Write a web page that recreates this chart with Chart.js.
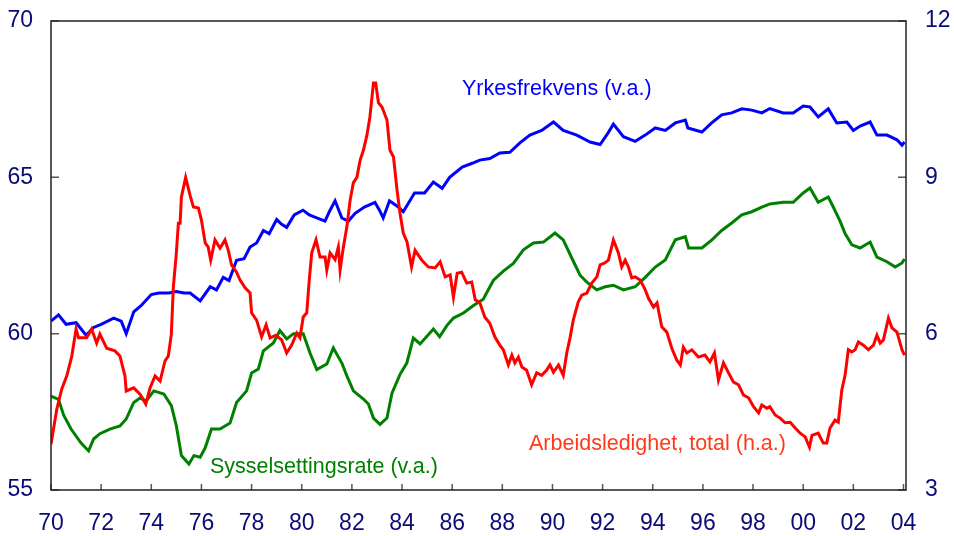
<!DOCTYPE html>
<html>
<head>
<meta charset="utf-8">
<script src="https://cdn.jsdelivr.net/npm/chart.js@4.4.1/dist/chart.umd.min.js"></script>
<style>
  html, body { margin: 0; padding: 0; background: #fff; }
</style>
</head>
<body>
<canvas id="arbeidsmarked" width="954" height="536"></canvas>
<script>
// Yrkesfrekvens (venstre akse)
const yrkesAar = [1970.0, 1970.3, 1970.6, 1971.0, 1971.4, 1971.7, 1972.0, 1972.5, 1972.8, 1973.0, 1973.3, 1973.6, 1974.0, 1974.3, 1974.7, 1975.0, 1975.3, 1975.55, 1975.95, 1976.35, 1976.6, 1976.87, 1977.1, 1977.4, 1977.7, 1977.94, 1978.2, 1978.47, 1978.7, 1979.0, 1979.2, 1979.4, 1979.7, 1980.05, 1980.3, 1980.6, 1980.93, 1981.1, 1981.33, 1981.6, 1981.86, 1982.13, 1982.5, 1982.92, 1983.1, 1983.25, 1983.5, 1983.85, 1984.05, 1984.5, 1984.9, 1985.25, 1985.6, 1985.9, 1986.4, 1986.8, 1987.1, 1987.5, 1987.9, 1988.3, 1988.7, 1989.1, 1989.57, 1990.04, 1990.43, 1990.97, 1991.5, 1991.9, 1992.2, 1992.43, 1992.83, 1993.3, 1993.7, 1994.1, 1994.5, 1994.9, 1995.3, 1995.4, 1995.96, 1996.35, 1996.75, 1997.15, 1997.55, 1997.95, 1998.35, 1998.67, 1999.2, 1999.6, 2000.0, 2000.27, 2000.6, 2001.0, 2001.34, 2001.74, 2002.0, 2002.27, 2002.67, 2002.94, 2003.34, 2003.74, 2003.94, 2004.04];
const yrkesVerdi = [60.4, 60.6, 60.3, 60.35, 59.95, 60.2, 60.3, 60.5, 60.4, 60.0, 60.7, 60.9, 61.25, 61.3, 61.3, 61.35, 61.3, 61.3, 61.05, 61.5, 61.4, 61.8, 61.7, 62.35, 62.4, 62.77, 62.9, 63.3, 63.2, 63.65, 63.5, 63.4, 63.8, 63.95, 63.8, 63.7, 63.6, 63.9, 64.25, 63.7, 63.6, 63.85, 64.05, 64.2, 63.95, 63.7, 64.25, 64.05, 63.9, 64.5, 64.5, 64.85, 64.65, 65.0, 65.33, 65.45, 65.55, 65.6, 65.78, 65.8, 66.1, 66.35, 66.5, 66.77, 66.5, 66.35, 66.13, 66.05, 66.4, 66.7, 66.3, 66.15, 66.35, 66.58, 66.5, 66.74, 66.83, 66.58, 66.45, 66.74, 67.0, 67.06, 67.19, 67.15, 67.06, 67.2, 67.06, 67.06, 67.28, 67.25, 66.93, 67.19, 66.74, 66.77, 66.5, 66.64, 66.77, 66.35, 66.35, 66.2, 66.03, 66.13];

// Sysselsettingsrate (venstre akse)
const sysselAar = [1970.0, 1970.3, 1970.5, 1970.8, 1971.2, 1971.5, 1971.7, 1971.95, 1972.35, 1972.75, 1973.0, 1973.3, 1973.55, 1973.8, 1974.1, 1974.5, 1974.8, 1975.0, 1975.2, 1975.5, 1975.7, 1975.95, 1976.15, 1976.4, 1976.74, 1977.14, 1977.4, 1977.8, 1978.0, 1978.27, 1978.47, 1978.87, 1979.13, 1979.4, 1979.67, 1980.06, 1980.33, 1980.6, 1981.0, 1981.26, 1981.6, 1981.8, 1982.06, 1982.46, 1982.66, 1982.86, 1983.12, 1983.4, 1983.6, 1983.92, 1984.19, 1984.45, 1984.72, 1985.25, 1985.5, 1985.78, 1986.05, 1986.45, 1986.85, 1987.24, 1987.64, 1988.04, 1988.44, 1988.84, 1989.24, 1989.64, 1990.1, 1990.43, 1990.77, 1991.1, 1991.37, 1991.77, 1992.1, 1992.43, 1992.83, 1993.3, 1993.7, 1994.1, 1994.5, 1994.9, 1995.3, 1995.43, 1995.96, 1996.36, 1996.75, 1997.15, 1997.55, 1997.95, 1998.35, 1998.67, 1999.2, 1999.6, 2000.0, 2000.27, 2000.6, 2001.0, 2001.2, 2001.47, 2001.67, 2001.94, 2002.27, 2002.67, 2002.94, 2003.34, 2003.67, 2003.94, 2004.04];
const sysselVerdi = [58.0, 57.9, 57.4, 56.95, 56.5, 56.25, 56.63, 56.8, 56.95, 57.05, 57.27, 57.8, 57.94, 57.85, 58.17, 58.07, 57.7, 57.05, 56.1, 55.83, 56.1, 56.05, 56.35, 56.95, 56.95, 57.14, 57.8, 58.17, 58.74, 58.87, 59.45, 59.7, 60.1, 59.83, 60.0, 60.0, 59.38, 58.85, 59.03, 59.54, 59.06, 58.65, 58.17, 57.91, 57.75, 57.3, 57.1, 57.3, 58.1, 58.7, 59.06, 59.86, 59.67, 60.15, 59.9, 60.25, 60.5, 60.66, 60.9, 61.1, 61.7, 62.0, 62.25, 62.68, 62.9, 62.93, 63.22, 63.0, 62.42, 61.87, 61.65, 61.4, 61.5, 61.55, 61.4, 61.5, 61.8, 62.13, 62.36, 63.0, 63.1, 62.74, 62.74, 63.0, 63.3, 63.54, 63.8, 63.9, 64.05, 64.15, 64.2, 64.2, 64.5, 64.66, 64.2, 64.37, 64.05, 63.6, 63.2, 62.84, 62.74, 62.93, 62.45, 62.3, 62.13, 62.26, 62.39];

// Arbeidsledighet, total (høyre akse)
const ledigAar = [1970.0, 1970.23, 1970.43, 1970.63, 1970.83, 1971.0, 1971.1, 1971.42, 1971.62, 1971.82, 1971.95, 1972.22, 1972.55, 1972.75, 1972.95, 1973.0, 1973.3, 1973.55, 1973.78, 1973.95, 1974.15, 1974.35, 1974.55, 1974.68, 1974.8, 1974.88, 1975.0, 1975.08, 1975.15, 1975.2, 1975.37, 1975.55, 1975.68, 1975.88, 1976.0, 1976.15, 1976.27, 1976.37, 1976.54, 1976.74, 1976.94, 1977.07, 1977.2, 1977.4, 1977.54, 1977.74, 1977.94, 1978.0, 1978.2, 1978.4, 1978.58, 1978.74, 1978.97, 1979.2, 1979.4, 1979.6, 1979.8, 1979.93, 1980.06, 1980.2, 1980.3, 1980.4, 1980.57, 1980.73, 1980.93, 1981.0, 1981.13, 1981.33, 1981.46, 1981.53, 1981.66, 1981.8, 1981.93, 1982.06, 1982.2, 1982.33, 1982.46, 1982.6, 1982.72, 1982.86, 1982.95, 1983.06, 1983.2, 1983.4, 1983.52, 1983.66, 1983.8, 1983.92, 1984.05, 1984.2, 1984.38, 1984.52, 1984.79, 1985.05, 1985.32, 1985.52, 1985.72, 1985.92, 1986.05, 1986.2, 1986.38, 1986.58, 1986.78, 1986.92, 1987.1, 1987.3, 1987.5, 1987.7, 1987.9, 1988.04, 1988.24, 1988.38, 1988.5, 1988.64, 1988.78, 1988.97, 1989.17, 1989.37, 1989.57, 1989.77, 1989.9, 1990.04, 1990.24, 1990.43, 1990.57, 1990.7, 1990.83, 1991.03, 1991.17, 1991.37, 1991.57, 1991.77, 1991.9, 1992.1, 1992.23, 1992.43, 1992.63, 1992.76, 1992.9, 1993.03, 1993.16, 1993.3, 1993.5, 1993.7, 1993.83, 1994.03, 1994.17, 1994.36, 1994.56, 1994.76, 1994.96, 1995.1, 1995.22, 1995.36, 1995.56, 1995.82, 1996.08, 1996.28, 1996.46, 1996.62, 1996.82, 1997.02, 1997.22, 1997.42, 1997.62, 1997.82, 1998.02, 1998.22, 1998.35, 1998.55, 1998.67, 1998.88, 1999.08, 1999.28, 1999.48, 1999.68, 1999.88, 2000.08, 2000.25, 2000.35, 2000.6, 2000.8, 2000.94, 2001.07, 2001.27, 2001.4, 2001.54, 2001.67, 2001.8, 2001.94, 2002.07, 2002.2, 2002.4, 2002.6, 2002.8, 2002.94, 2003.07, 2003.2, 2003.4, 2003.54, 2003.74, 2003.94, 2004.04];
const ledigVerdi = [3.88, 4.55, 4.94, 5.19, 5.57, 6.09, 5.92, 5.92, 6.09, 5.82, 5.99, 5.72, 5.67, 5.57, 5.19, 4.9, 4.96, 4.84, 4.65, 4.96, 5.19, 5.09, 5.48, 5.57, 5.99, 6.9, 7.55, 8.12, 8.12, 8.62, 9.0, 8.65, 8.43, 8.41, 8.18, 7.74, 7.66, 7.41, 7.8, 7.64, 7.8, 7.6, 7.32, 7.18, 7.03, 6.88, 6.78, 6.4, 6.26, 5.94, 6.17, 5.92, 5.97, 5.88, 5.63, 5.78, 6.01, 5.92, 6.32, 6.4, 7.03, 7.55, 7.8, 7.47, 7.47, 7.22, 7.55, 7.42, 7.66, 7.22, 7.66, 8.05, 8.56, 8.9, 9.0, 9.33, 9.52, 9.81, 10.16, 10.81, 10.81, 10.43, 10.35, 10.1, 9.52, 9.39, 8.76, 8.31, 7.93, 7.76, 7.28, 7.6, 7.41, 7.28, 7.26, 7.38, 7.09, 7.13, 6.7, 7.16, 7.18, 6.97, 6.99, 6.65, 6.6, 6.32, 6.2, 5.94, 5.78, 5.69, 5.4, 5.59, 5.44, 5.55, 5.36, 5.3, 5.02, 5.25, 5.2, 5.3, 5.4, 5.26, 5.4, 5.2, 5.63, 5.92, 6.26, 6.61, 6.74, 6.78, 6.97, 7.09, 7.32, 7.36, 7.41, 7.8, 7.55, 7.28, 7.41, 7.28, 7.07, 7.09, 7.03, 6.84, 6.68, 6.51, 6.59, 6.13, 6.03, 5.72, 5.49, 5.4, 5.74, 5.63, 5.69, 5.55, 5.59, 5.46, 5.63, 5.11, 5.44, 5.25, 5.07, 5.02, 4.82, 4.77, 4.6, 4.48, 4.63, 4.57, 4.6, 4.44, 4.38, 4.29, 4.3, 4.19, 4.09, 4.02, 3.82, 4.05, 4.09, 3.9, 3.9, 4.19, 4.34, 4.3, 4.92, 5.2, 5.69, 5.65, 5.69, 5.84, 5.78, 5.69, 5.78, 5.97, 5.82, 5.88, 6.3, 6.11, 6.03, 5.69, 5.59];

const aarTicks = [1970, 1972, 1974, 1976, 1978, 1980, 1982, 1984, 1986, 1988, 1990, 1992, 1994, 1996, 1998, 2000, 2002, 2004];
const venstreTicks = [55, 60, 65, 70];
const hoyreTicks = [3, 6, 9, 12];

const etikettFont = '"Liberation Sans", Arial, sans-serif';
const akseFarge = '#0b0b78';

function punkter(aar, verdi) {
  return aar.map((x, i) => ({ x: x, y: verdi[i] }));
}

// faste aksebredder, og ingen ekstra luft over/under for y-aksene
function fastBredde(bredde) {
  return scale => {
    scale.width = bredde;
    scale.paddingTop = 0;
    scale.paddingBottom = 0;
  };
}

// ramme, innadvendte tick-streker og serienavn
const rammeOgTekst = {
  id: 'rammeOgTekst',
  afterDatasetsDraw(chart) {
    const ctx = chart.ctx;
    const a = chart.chartArea;
    const s = chart.scales;
    ctx.save();
    ctx.strokeStyle = '#555';
    ctx.lineWidth = 1.5;
    ctx.beginPath();
    s.x.ticks.forEach(t => {
      const px = s.x.getPixelForValue(t.value);
      ctx.moveTo(px, a.bottom);
      ctx.lineTo(px, a.bottom - 6);
    });
    s.y.ticks.forEach(t => {
      const py = s.y.getPixelForValue(t.value);
      ctx.moveTo(a.left, py);
      ctx.lineTo(a.left + 8, py);
    });
    s.y1.ticks.forEach(t => {
      const py = s.y1.getPixelForValue(t.value);
      ctx.moveTo(a.right, py);
      ctx.lineTo(a.right - 8, py);
    });
    ctx.stroke();
    ctx.strokeStyle = '#222';
    ctx.strokeRect(a.left, a.top, a.right - a.left, a.bottom - a.top);

    ctx.font = '21.5px ' + etikettFont;
    ctx.textAlign = 'left';
    ctx.textBaseline = 'alphabetic';
    ctx.fillStyle = '#0000ff';
    ctx.fillText('Yrkesfrekvens (v.a.)', 462, 95);
    ctx.fillStyle = '#008000';
    ctx.fillText('Sysselsettingsrate (v.a.)', 210, 473);
    ctx.fillStyle = '#ff3a1a';
    ctx.fillText('Arbeidsledighet, total (h.a.)', 529, 450);
    ctx.restore();
  }
};

new Chart(document.getElementById('arbeidsmarked'), {
  type: 'line',
  data: {
    datasets: [
      {
        label: 'Arbeidsledighet, total (h.a.)',
        data: punkter(ledigAar, ledigVerdi),
        yAxisID: 'y1',
        borderColor: '#ff0000',
        borderWidth: 3,
        pointRadius: 0,
        tension: 0
      },
      {
        label: 'Yrkesfrekvens (v.a.)',
        data: punkter(yrkesAar, yrkesVerdi),
        yAxisID: 'y',
        borderColor: '#0000ff',
        borderWidth: 3,
        pointRadius: 0,
        tension: 0
      },
      {
        label: 'Sysselsettingsrate (v.a.)',
        data: punkter(sysselAar, sysselVerdi),
        yAxisID: 'y',
        borderColor: '#008000',
        borderWidth: 3,
        pointRadius: 0,
        tension: 0
      }
    ]
  },
  options: {
    responsive: false,
    animation: false,
    devicePixelRatio: 1,
    layout: { padding: { top: 21, left: 0, right: 0, bottom: 0 } },
    plugins: {
      legend: { display: false },
      tooltip: { enabled: false }
    },
    scales: {
      x: {
        type: 'linear',
        min: 1970,
        max: 2004.1,
        afterBuildTicks: scale => { scale.ticks = aarTicks.map(v => ({ value: v })); },
        afterFit: scale => {
          scale.height = 46;
          scale.paddingLeft = 0;
          scale.paddingRight = 0;
        },
        grid: { display: false, drawTicks: false },
        border: { display: false },
        ticks: {
          autoSkip: false,
          maxRotation: 0,
          padding: 20,
          color: akseFarge,
          font: { family: etikettFont, size: 23 },
          callback: v => String(v % 100).padStart(2, '0')
        }
      },
      y: {
        position: 'left',
        min: 55,
        max: 70,
        afterBuildTicks: scale => { scale.ticks = venstreTicks.map(v => ({ value: v })); },
        afterFit: fastBredde(51),
        grid: { display: false, drawTicks: false },
        border: { display: false },
        ticks: {
          padding: 18,
          color: akseFarge,
          font: { family: etikettFont, size: 23 }
        }
      },
      y1: {
        position: 'right',
        min: 3,
        max: 12,
        afterBuildTicks: scale => { scale.ticks = hoyreTicks.map(v => ({ value: v })); },
        afterFit: fastBredde(48),
        grid: { display: false, drawTicks: false },
        border: { display: false },
        ticks: {
          padding: 19,
          color: akseFarge,
          font: { family: etikettFont, size: 23 }
        }
      }
    }
  },
  plugins: [rammeOgTekst]
});
</script>
</body>
</html>
